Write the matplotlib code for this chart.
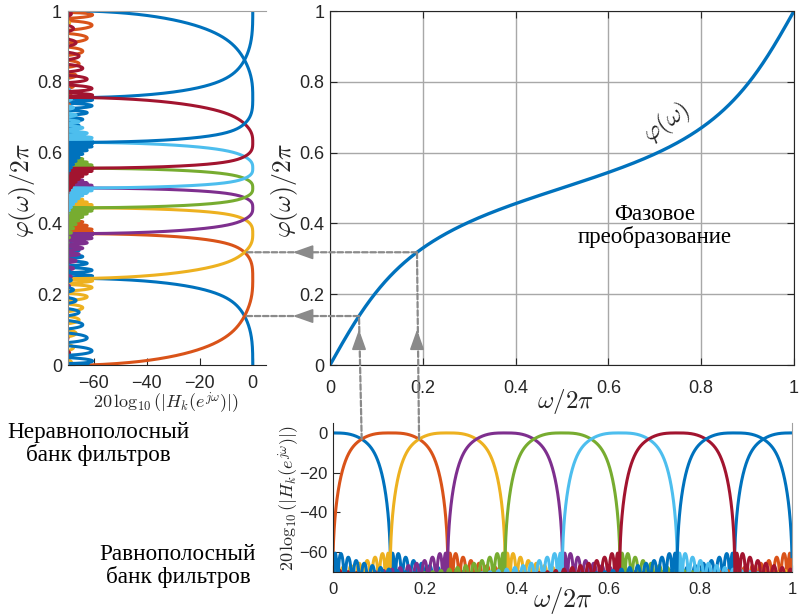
import numpy as np
import matplotlib
matplotlib.use("Agg")
import matplotlib.pyplot as plt
from matplotlib.patches import ConnectionPatch

plt.rcParams["mathtext.fontset"] = "cm"
plt.rcParams["font.family"] = ["Liberation Sans", "DejaVu Sans"]

# ---- filter bank / warping parameters ----
n_channels = 8            # uniform DFT filter bank
n_taps = 55               # prototype length
kaiser_beta = 3.0         # prototype window
rolloff_half = 0.047      # half width of the root-raised-cosine transition (cycles/sample)
warp_coeff = 0.4          # first-order allpass warping coefficient

channel_colors = ["#0072BD", "#D95319", "#EDB120", "#7E2F8E",
                  "#77AC30", "#4DBEEE", "#A2142F", "#0072BD"]

cross_freqs = [1 / 16, 3 / 16]          # band-edge crossings that are traced
unit_ticks = [0, 0.2, 0.4, 0.6, 0.8, 1]
unit_labels = ["0", "0.2", "0.4", "0.6", "0.8", "1"]
db_ticks = [-60, -40, -20, 0]
db_limits = (-70, 5)

serif = ["Liberation Serif", "DejaVu Serif"]
axis_grey = "#262626"
trace_grey = "#8a8a8a"

# ---- prototype lowpass: root-raised-cosine target, Kaiser-windowed ----
n_grid = 8192
fg = np.abs(np.fft.fftfreq(n_grid))
fc = 0.5 / n_channels
ramp = np.clip((fg - (fc - rolloff_half)) / rolloff_half, 0, 2)
target = np.cos(np.pi / 4 * ramp)
target[fg >= fc + rolloff_half] = 0.0
h_full = np.fft.fftshift(np.real(np.fft.ifft(target)))
half = n_taps // 2
centre = n_grid // 2
h = h_full[centre - half:centre + half + 1] * np.kaiser(n_taps, kaiser_beta)
taps = np.arange(n_taps) - half


def response_db(f, k):
    e = np.exp(-2j * np.pi * np.outer(np.atleast_1d(f) - k / n_channels, taps))
    mag = np.abs(e @ h) / np.abs(h.sum())
    return 20 * np.log10(mag + 1e-12)


def warp(f):
    w = 2 * np.pi * f
    return (w + 2 * np.arctan(warp_coeff * np.sin(w) / (1 - warp_coeff * np.cos(w)))) / (2 * np.pi)


freq = np.linspace(0, 1, 4001)
phase = warp(freq)
bank = [response_db(freq, k) for k in range(n_channels)]

# ---- figure layout ----
W, H = 799, 614
fig = plt.figure(figsize=(W / 100, H / 100), dpi=100)


def box(x0, x1, y_top, y_bot):
    return [x0 / W, 1 - y_bot / H, (x1 - x0) / W, (y_bot - y_top) / H]


ax_left = fig.add_axes(box(67.5, 266, 11, 365))
ax_top = fig.add_axes(box(330, 794, 11, 365))
ax_bot = fig.add_axes(box(333, 792, 423, 572))

# non-uniform bank: uniform responses drawn against the warped frequency
for k in range(n_channels):
    ax_left.plot(bank[k], phase, color=channel_colors[k], lw=2.2)
ax_left.set_xlim(*db_limits)
ax_left.set_ylim(0, 1)
ax_left.set_xticks(db_ticks)
ax_left.set_yticks(unit_ticks)
ax_left.set_yticklabels(unit_labels)
ax_left.spines["right"].set_visible(False)
ax_left.spines["top"].set_color("#a0a0a0")
ax_left.spines["left"].set_color("#8a8a8a")
ax_left.spines["bottom"].set_color(axis_grey)
ax_left.tick_params(direction="in", length=5, labelsize=13, colors=axis_grey)
ax_left.tick_params(axis="x", pad=7)
ax_left.tick_params(axis="y", pad=4)

# phase warping curve
ax_top.plot(freq, phase, color="#0072BD", lw=2.4)
ax_top.set_xlim(0, 1)
ax_top.set_ylim(0, 1)
ax_top.set_xticks(unit_ticks)
ax_top.set_yticks(unit_ticks)
ax_top.set_xticklabels(unit_labels)
ax_top.set_yticklabels(unit_labels)
ax_top.grid(True, color="#a8a8a8", lw=1.0)
for s in ax_top.spines.values():
    s.set_color(axis_grey)
ax_top.tick_params(direction="in", length=5, labelsize=13, colors=axis_grey,
                   top=True, right=True)
ax_top.tick_params(axis="x", pad=11)
ax_top.tick_params(axis="y", pad=4)

# uniform bank
for k in range(n_channels):
    ax_bot.plot(freq, bank[k], color=channel_colors[k], lw=2.2)
ax_bot.set_xlim(0, 1)
ax_bot.set_ylim(*db_limits)
ax_bot.set_xticks(unit_ticks)
ax_bot.set_xticklabels(unit_labels)
ax_bot.set_yticks(db_ticks)
ax_bot.spines["top"].set_visible(False)
ax_bot.spines["right"].set_color("#a0a0a0")
ax_bot.spines["left"].set_color(axis_grey)
ax_bot.spines["bottom"].set_color(axis_grey)
ax_bot.tick_params(direction="in", length=5, labelsize=12, colors=axis_grey)
ax_bot.tick_params(axis="x", pad=7)
ax_bot.tick_params(axis="y", pad=4)


# ---- labels ----
def ftext(x, y, s, **kw):
    fig.text(x / W, 1 - y / H, s, ha="center", va="center", **kw)


ftext(22, 190, r"$\varphi(\omega)/2\pi$", fontsize=18.5, rotation=90, color=axis_grey)
ftext(284, 190, r"$\varphi(\omega)/2\pi$", fontsize=18.5, rotation=90, color=axis_grey)
ftext(166, 403, r"$20\,\log_{10}(|H_k(e^{j\omega})|)$", fontsize=13, color=axis_grey)
ftext(289, 498, r"$20\,\log_{10}(|H_k(e^{j\omega})|)$", fontsize=13, rotation=90, color=axis_grey)
ftext(565, 401, r"$\omega/2\pi$", fontsize=18, color=axis_grey)
ftext(563, 600, r"$\omega/2\pi$", fontsize=19, color=axis_grey)

ftext(667, 123, r"$\varphi(\omega)$", fontsize=18, rotation=36, color=axis_grey)
ftext(655, 226, "Фазовое\nпреобразование", fontsize=16.5, family=serif, linespacing=1.1)
ftext(98, 444, "Неравнополосный\nбанк фильтров", fontsize=16.7, family=serif, linespacing=1.05)
ftext(178, 566, "Равнополосный\nбанк фильтров", fontsize=16.7, family=serif, linespacing=1.05)

# ---- traces from the uniform bank through the warping curve ----
line_style = dict(color=trace_grey, lw=1.6, linestyle=(0, (2.5, 1.2)))
head = dict(arrowstyle="-|>,head_length=0.62,head_width=0.22",
            color=trace_grey, lw=1.2, mutation_scale=20)
for f0, k in zip(cross_freqs, [0, 1]):
    level = response_db(f0, k)[0]
    p = warp(f0)
    fig.add_artist(ConnectionPatch(xyA=(f0, level), coordsA=ax_bot.transData,
                                   xyB=(f0, p), coordsB=ax_top.transData, **line_style))
    fig.add_artist(ConnectionPatch(xyA=(f0, p), coordsA=ax_top.transData,
                                   xyB=(level, p), coordsB=ax_left.transData, **line_style))
    ax_top.annotate("", xy=(f0, 0.108), xytext=(f0, 0.06),
                    xycoords=ax_top.get_xaxis_transform(),
                    arrowprops=head, annotation_clip=False)
    ax_top.annotate("", xy=(-0.086, p), xytext=(-0.05, p),
                    xycoords=ax_top.get_yaxis_transform(),
                    arrowprops=head, annotation_clip=False)

fig.savefig("out.png", dpi=100)
